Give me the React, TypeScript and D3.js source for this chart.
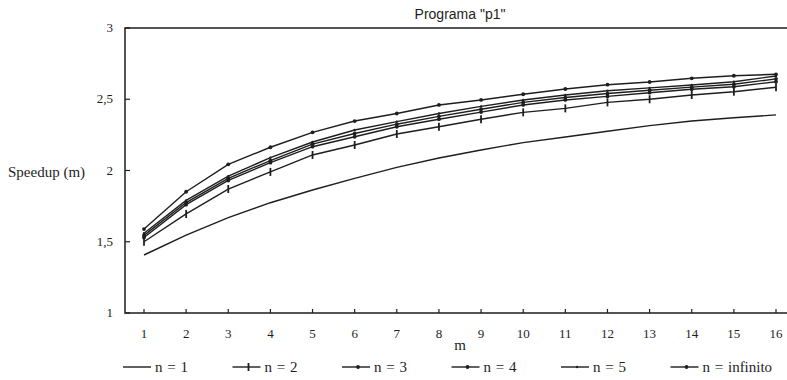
import * as d3 from 'd3'

// m values (x axis)
const M = [1, 2, 3, 4, 5, 6, 7, 8, 9, 10, 11, 12, 13, 14, 15, 16]

// speedup per series
const N1 = [1.407, 1.547, 1.669, 1.774, 1.863, 1.945, 2.022, 2.088, 2.144, 2.196, 2.235, 2.275, 2.315, 2.347, 2.37, 2.39]
const N2 = [1.5, 1.695, 1.87, 1.99, 2.109, 2.179, 2.256, 2.307, 2.36, 2.408, 2.436, 2.478, 2.5, 2.53, 2.553, 2.584]
const N3 = [1.53, 1.76, 1.93, 2.055, 2.167, 2.237, 2.307, 2.36, 2.41, 2.46, 2.495, 2.52, 2.546, 2.57, 2.588, 2.623]
const N4 = [1.545, 1.775, 1.945, 2.07, 2.185, 2.26, 2.325, 2.38, 2.43, 2.478, 2.512, 2.54, 2.563, 2.585, 2.605, 2.643]
const N5 = [1.56, 1.79, 1.96, 2.09, 2.2, 2.284, 2.343, 2.4, 2.45, 2.495, 2.53, 2.56, 2.58, 2.6, 2.623, 2.663]
const NINF = [1.589, 1.851, 2.043, 2.163, 2.268, 2.347, 2.4, 2.46, 2.495, 2.535, 2.572, 2.602, 2.621, 2.647, 2.665, 2.675]

const SERIES = [
  { label: 'n = 1', values: N1, marker: 'none' },
  { label: 'n = 2', values: N2, marker: 'tick' },
  { label: 'n = 3', values: N3, marker: 'dot' },
  { label: 'n = 4', values: N4, marker: 'dot' },
  { label: 'n = 5', values: N5, marker: 'small' },
  { label: 'n = infinito', values: NINF, marker: 'dot' },
]

const Y_TICKS = [1, 1.5, 2, 2.5, 3]
const Y_TICK_LABELS = ['1', '1,5', '2', '2,5', '3']

const INK = '#1e1e1e'
const SERIF = { fontFamily: 'Liberation Serif' }
const SANS = { fontFamily: 'Liberation Sans' }

const W = 787, H = 380
const left = 125, right = 787, top = 28, bottom = 313

const x = d3.scaleLinear().domain([1, 16]).range([144, 776])
const y = d3.scaleLinear().domain([1, 3]).range([bottom, top])
const line = d3.line<number>().x((_, i) => x(M[i])).y(d => y(d))

function Marker({ kind, cx, cy }: { kind: string; cx: number; cy: number }) {
  if (kind === 'tick')
    return <line x1={cx} x2={cx} y1={cy - 4} y2={cy + 4} stroke={INK} strokeWidth={1.8} />
  if (kind === 'dot') return <circle cx={cx} cy={cy} r={1.9} fill={INK} />
  if (kind === 'small') return <circle cx={cx} cy={cy} r={1.2} fill={INK} />
  return null
}

export default function App() {
  return (
    <svg width={W} height={H} style={{ position: 'absolute', left: 0, top: 0, display: 'block', background: '#fff' }}>
      {/* frame: top, left, bottom */}
      <path d={`M${right},${top}H${left}V${bottom}H${right}`} fill="none" stroke={INK} strokeWidth={1.5} />

      {Y_TICKS.map((t, i) => (
        <g key={t}>
          <line x1={left} x2={left + 5} y1={y(t)} y2={y(t)} stroke={INK} strokeWidth={1.2} />
          <text x={113} y={y(t) + 4} textAnchor="end" fontSize={13} fill={INK} style={SERIF}>{Y_TICK_LABELS[i]}</text>
        </g>
      ))}

      {M.map(m => (
        <g key={m}>
          <line x1={x(m)} x2={x(m)} y1={bottom} y2={bottom - 4} stroke={INK} strokeWidth={1.2} />
          <text x={x(m)} y={338} textAnchor="middle" fontSize={13} fill={INK} style={SERIF}>{m}</text>
        </g>
      ))}

      <text x={460} y={19} textAnchor="middle" fontSize={14} fill={INK} style={SANS}>Programa "p1"</text>
      <text x={8} y={177} fontSize={15} fill={INK} style={SERIF}>Speedup (m)</text>
      <text x={460} y={350} textAnchor="middle" fontSize={15} fill={INK} style={SERIF}>m</text>

      {SERIES.map(s => (
        <g key={s.label}>
          <path d={line(s.values) ?? ''} fill="none" stroke={INK} strokeWidth={1.4} />
          {s.values.map((v, i) => (
            <Marker key={i} kind={s.marker} cx={x(M[i])} cy={y(v)} />
          ))}
        </g>
      ))}

      {/* legend */}
      {SERIES.map((s, i) => {
        const lx = 123 + i * 109.5
        const ly = 367
        return (
          <g key={s.label}>
            <line x1={lx} x2={lx + 28} y1={ly} y2={ly} stroke={INK} strokeWidth={1.4} />
            <Marker kind={s.marker} cx={lx + 16} cy={ly} />
            <text x={lx + 32} y={ly + 5} fontSize={15} fill={INK} style={{ ...SERIF, wordSpacing: 1 }}>{s.label}</text>
          </g>
        )
      })}
    </svg>
  )
}
